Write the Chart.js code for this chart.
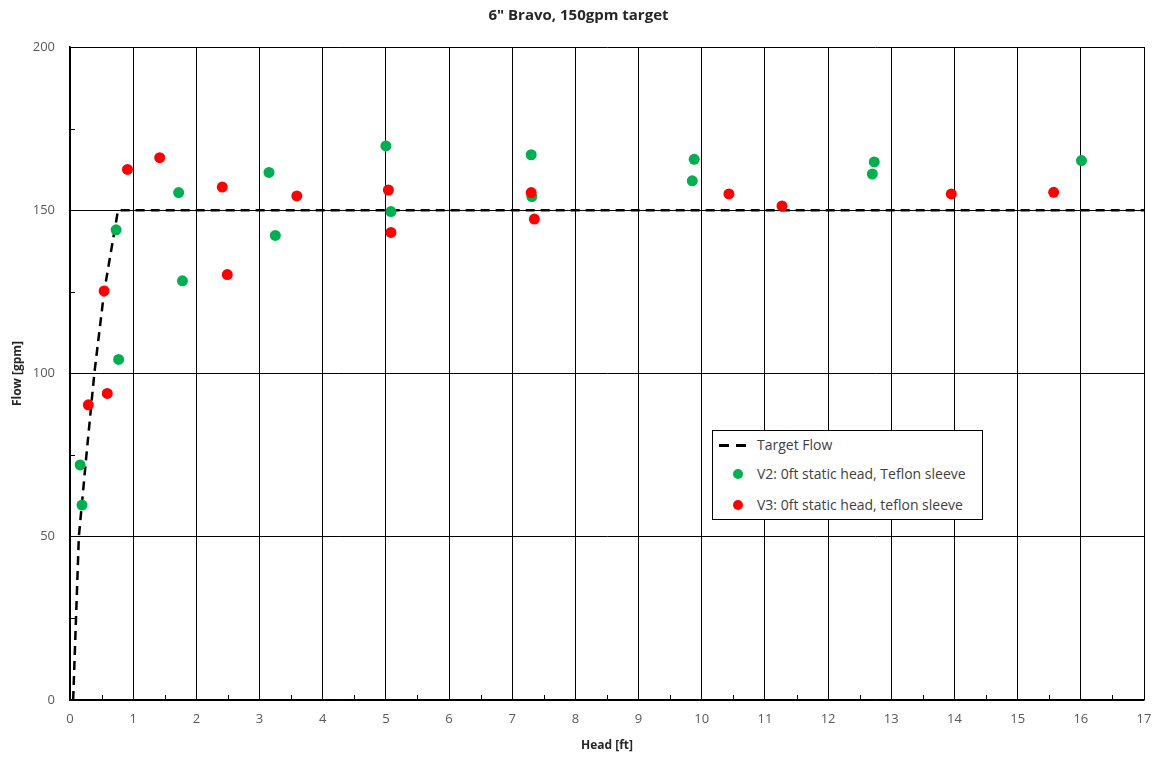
<!DOCTYPE html>
<html>
<head>
<meta charset="utf-8">
<script src="https://cdn.jsdelivr.net/npm/chart.js@4.4.1/dist/chart.umd.min.js"></script>
<style>
  body { margin: 0; background: #fff; }
  #wrap { position: relative; width: 1157px; height: 760px; }
  #legendBox {
    position: absolute; left: 712px; top: 430px; width: 269px; height: 88px;
    border: 1px solid #000; background: #fff;
    font-family: "Open Sans", sans-serif; font-size: 14px; color: #404040;
  }
  .row { position: absolute; left: 0; height: 20px; line-height: 20px; }
  .row span { position: absolute; left: 44px; white-space: nowrap; }
  .dash { position: absolute; top: 9px; width: 10px; height: 3px; background: #000; }
  .dot { position: absolute; left: 20px; top: 5px; width: 10px; height: 10px; border-radius: 50%; }
</style>
</head>
<body>
<div id="wrap">
  <canvas id="chart" width="1157" height="760"></canvas>
  <div id="legendBox">
    <div class="row" style="top:4px"><div class="dash" style="left:6px"></div><div class="dash" style="left:23px"></div><span>Target Flow</span></div>
    <div class="row" style="top:33px"><div class="dot" style="background:#00B050"></div><span>V2: 0ft static head, Teflon sleeve</span></div>
    <div class="row" style="top:64px"><div class="dot" style="background:#FF0000"></div><span>V3: 0ft static head, teflon sleeve</span></div>
  </div>
</div>
<script>
// target flow curve
const targetHead = [0.05, 0.095, 0.14, 0.26, 0.385, 0.54, 0.76, 17];
const targetFlow = [0, 25, 50, 75, 100, 125, 150, 150];

// V2: 0ft static head, Teflon sleeve
const v2Head = [0.16, 0.19, 0.73, 0.77, 1.72, 1.78, 3.15, 3.25, 5.0, 5.08, 7.30, 7.31, 9.85, 9.88, 12.70, 12.73, 16.01];
const v2Flow = [72.0, 59.7, 144.0, 104.3, 155.4, 128.4, 161.6, 142.3, 169.7, 149.6, 167.0, 154.2, 159.0, 165.6, 161.1, 164.8, 165.2];

// V3: 0ft static head, teflon sleeve
const v3Head = [0.29, 0.54, 0.59, 0.91, 1.42, 2.41, 2.49, 3.59, 5.04, 5.08, 7.30, 7.35, 10.43, 11.27, 13.95, 15.57];
const v3Flow = [90.4, 125.3, 93.9, 162.5, 166.1, 157.1, 130.3, 154.4, 156.2, 143.2, 155.4, 147.3, 155.0, 151.3, 155.0, 155.5];

const xTicks = [0, 17, 1];     // min, max, step
const yTicks = [0, 200, 50];

const FONT = '"Open Sans", sans-serif';

function pts(xs, ys) {
  return xs.map((x, i) => ({ x: x, y: ys[i] }));
}

// small inner ticks at half steps, like Excel minor tick marks
const minorTicks = {
  id: 'minorTicks',
  afterDraw(chart) {
    const c = chart.ctx, a = chart.chartArea;
    const xs = chart.scales.x, ys = chart.scales.y;
    c.save();
    c.strokeStyle = '#000';
    c.lineWidth = 1;
    c.beginPath();
    for (let v = xTicks[0] + xTicks[2] / 2; v < xTicks[1]; v += xTicks[2]) {
      const px = Math.round(xs.getPixelForValue(v)) + 0.5;
      c.moveTo(px, a.bottom);
      c.lineTo(px, a.bottom - 5);
    }
    for (let v = yTicks[0] + yTicks[2] / 2; v < yTicks[1]; v += yTicks[2]) {
      const py = Math.round(ys.getPixelForValue(v)) + 0.5;
      c.moveTo(a.left, py);
      c.lineTo(a.left + 5, py);
    }
    c.stroke();
    c.restore();
  }
};

new Chart(document.getElementById('chart'), {
  type: 'scatter',
  data: {
    datasets: [
      {
        label: 'Target Flow',
        data: pts(targetHead, targetFlow),
        showLine: true,
        borderColor: '#000',
        borderWidth: 2.5,
        borderDash: [9, 6],
        pointRadius: 0,
        fill: false,
        order: 2
      },
      {
        label: 'V2: 0ft static head, Teflon sleeve',
        data: pts(v2Head, v2Flow),
        backgroundColor: '#00B050',
        borderWidth: 0,
        pointRadius: 5.5,
        order: 1
      },
      {
        label: 'V3: 0ft static head, teflon sleeve',
        data: pts(v3Head, v3Flow),
        backgroundColor: '#FF0000',
        borderWidth: 0,
        pointRadius: 5.5,
        order: 0
      }
    ]
  },
  options: {
    responsive: false,
    animation: false,
    layout: { padding: 0 },
    plugins: {
      legend: { display: false },
      tooltip: { enabled: false },
      title: {
        display: true,
        text: '6" Bravo, 150gpm target',
        color: '#262626',
        font: { family: FONT, size: 15, weight: 'bold' },
        padding: { top: 7, bottom: 22 }
      }
    },
    scales: {
      x: {
        type: 'linear',
        min: xTicks[0], max: xTicks[1],
        ticks: { stepSize: xTicks[2], color: '#595959', font: { family: FONT, size: 13 }, padding: 11 },
        grid: { color: '#000', lineWidth: 1, drawTicks: false },
        border: { color: '#000', width: 1.5 },
        title: { display: true, text: 'Head [ft]', color: '#262626', font: { family: FONT, size: 12, weight: 'bold' }, padding: { top: 0, bottom: 7 } },
        afterFit(s) { s.height = 60; s.paddingLeft = 0; s.paddingRight = 13; }
      },
      y: {
        type: 'linear',
        min: yTicks[0], max: yTicks[1],
        ticks: { stepSize: yTicks[2], color: '#595959', font: { family: FONT, size: 13 }, padding: 15 },
        grid: { color: '#000', lineWidth: 1, drawTicks: false },
        border: { color: '#000', width: 1.5 },
        title: { display: true, text: 'Flow [gpm]', color: '#262626', font: { family: FONT, size: 12, weight: 'bold' }, padding: { top: 10, bottom: 0 } },
        afterFit(s) { s.width = 70; s.paddingTop = 0; s.paddingBottom = 0; }
      }
    }
  },
  plugins: [minorTicks]
});
</script>
</body>
</html>
